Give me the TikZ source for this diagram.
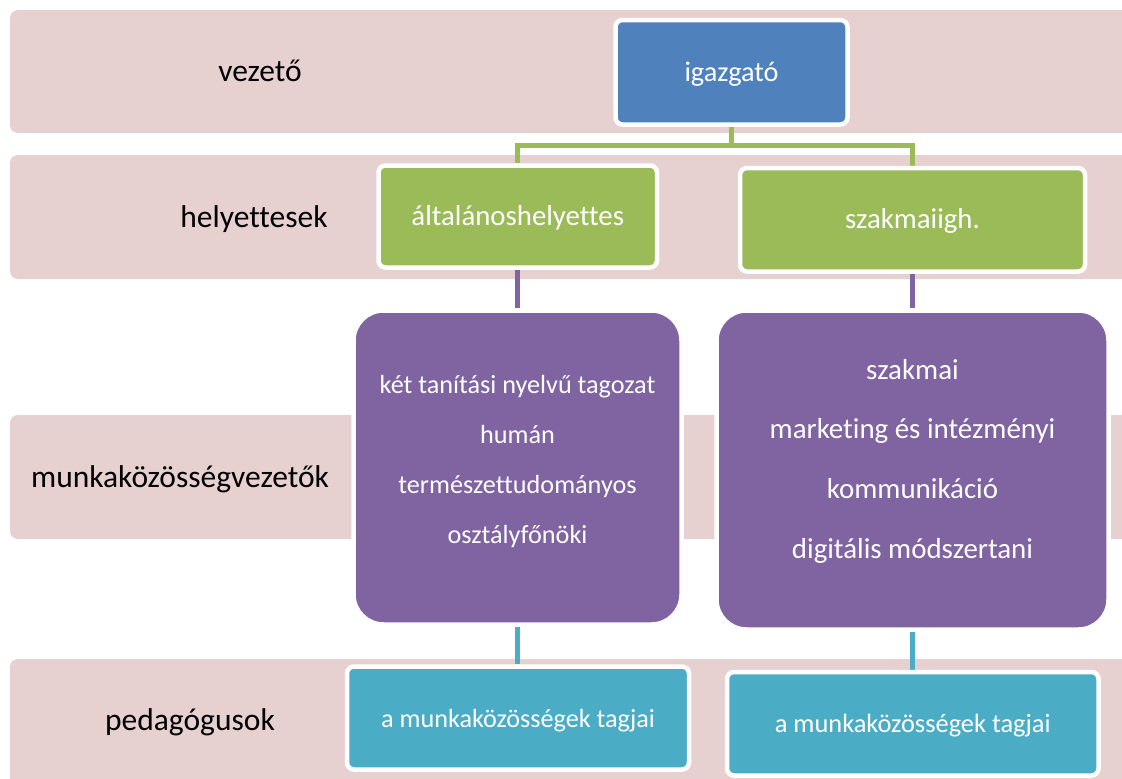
\documentclass[tikz,border=0pt]{standalone}
\usepackage{fontspec}
\setmainfont{Carlito}[Ligatures=NoCommon]
\definecolor{rowpink}{HTML}{E7D0D0}
\definecolor{ablue}{HTML}{4F81BD}
\definecolor{agreen}{HTML}{9BBB59}
\definecolor{apurple}{HTML}{8064A2}
\definecolor{ateal}{HTML}{4BACC6}
\pgfdeclarelayer{bg}
\pgfdeclarelayer{conn}
\pgfsetlayers{bg,conn,main}
\tikzset{
  rowband/.style={fill=rowpink, rounded corners=8pt},
  rowlabel/.style={anchor=base, font=\fontsize{31.5}{36}\selectfont, text=black, inner sep=0pt},
  whitebox/.style={draw=white, line width=4.5pt, rounded corners=7pt, text=white,
    text height=22pt, text depth=4pt, inner sep=0pt},
  bluebox/.style={whitebox, fill=ablue, font=\fontsize{28.3}{34}\selectfont},
  greenbox/.style={whitebox, fill=agreen, font=\fontsize{28.8}{34}\selectfont},
  tealbox/.style={whitebox, fill=ateal, font=\fontsize{26.2}{32}\selectfont},
  purplebox/.style={draw=white, line width=4.5pt, fill=apurple, rounded corners=30pt, inner sep=0pt},
  ptext/.style={text=white, align=center, inner sep=0pt},
  connector/.style={line width=5pt}
}
\begin{document}
\begin{tikzpicture}[x=1pt,y=-1pt]
\useasboundingbox (0,0) rectangle (1122,779);
\begin{pgfonlayer}{bg}
  \fill[white] (0,0) rectangle (1122,779);
  \begin{scope}
    \clip (0,0) rectangle (1122,779);
    \fill[rowband] (10,10) rectangle (1140,133);
    \fill[rowband] (10,155) rectangle (1140,279);
    \fill[rowband] (10,415) rectangle (1140,539);
    \fill[rowband] (10,659) rectangle (1140,800);
  \end{scope}
\end{pgfonlayer}

\node[rowlabel] (l1) at (260,81) {vezető};
\node[rowlabel] (l2) at (254,227) {helyettesek};
\node[rowlabel] (l3) at (180,487) {munkaközösségvezetők};
\node[rowlabel] (l4) at (190,730) {pedagógusok};

\node[bluebox, minimum width=232pt, minimum height=104.5pt] (dir) at (731.5,72.25) {igazgató};
\node[greenbox, minimum width=278.5pt, minimum height=102pt] (gl) at (517.75,216.5) {általánoshelyettes};
\node[greenbox, minimum width=345pt, minimum height=103.5pt] (gr) at (912.5,219.75) {szakmaiigh.};

\node[purplebox, minimum width=328pt, minimum height=314pt] (pl) at (517.5,467.5) {};
\node[ptext, font=\fontsize{26.2}{50}\selectfont] (plt) at (517.5,462) {két tanítási nyelvű tagozat\\humán\\természettudományos\\osztályfőnöki};
\node[purplebox, minimum width=392pt, minimum height=319pt] (pr) at (912.5,470) {};
\node[ptext, font=\fontsize{28.9}{59.7}\selectfont] (prt) at (912.5,461) {szakmai\\marketing és intézményi\\kommunikáció\\digitális módszertani};

\node[tealbox, minimum width=342pt, minimum height=103pt] (tl) at (518,718) {a munkaközösségek tagjai};
\node[tealbox, font=\fontsize{26.4}{32}\selectfont, minimum width=371.5pt, minimum height=103.5pt] (tr) at (912.75,723.75) {a munkaközösségek tagjai};

\begin{pgfonlayer}{conn}
  \coordinate (bar) at (0,145);
  \draw[connector, agreen] (dir.south) -- (dir.south |- bar) -| (gl.north);
  \draw[connector, agreen] (dir.south |- bar) -| (gr.north);
  \draw[connector, apurple] (gl.south) -- (gl.south |- pl.north);
  \draw[connector, apurple] (gr.south) -- (gr.south |- pr.north);
  \draw[connector, ateal] (pl.south) -- (pl.south |- tl.north);
  \draw[connector, ateal] (pr.south) -- (pr.south |- tr.north);
\end{pgfonlayer}
\end{tikzpicture}
\end{document}
